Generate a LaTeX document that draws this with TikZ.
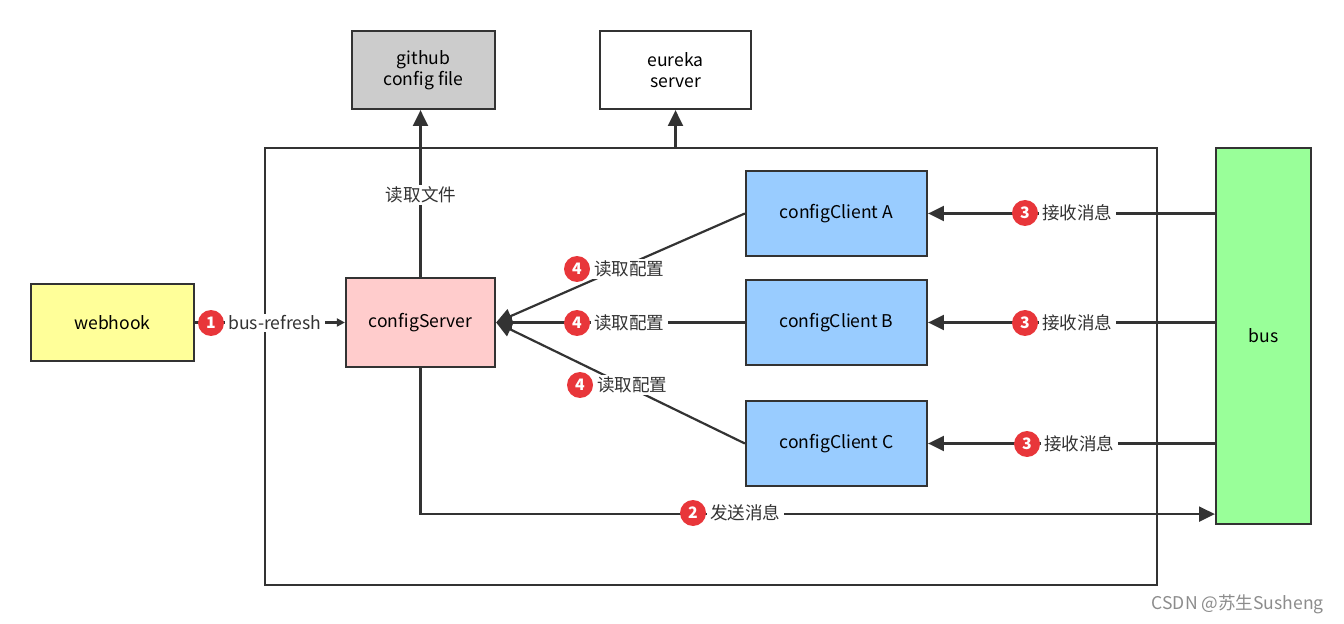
\documentclass[tikz,border=0pt]{standalone}
\usepackage{fontspec}
\setmainfont{Noto Sans CJK SC}
\usetikzlibrary{arrows.meta,positioning}
\definecolor{hookfill}{HTML}{FFFF99}
\definecolor{serverfill}{HTML}{FFCCCC}
\definecolor{gitfill}{HTML}{CCCCCC}
\definecolor{clientfill}{HTML}{99CCFF}
\definecolor{busfill}{HTML}{99FF99}
\definecolor{badgered}{HTML}{E8363A}
\definecolor{ink}{HTML}{333333}
\tikzset{%
  box/.style={draw=ink, line width=1.3pt, align=center, inner sep=0pt, font=\fontsize{10}{12}\selectfont},
  hook/.style={box, fill=hookfill, minimum width=3.26cm, minimum height=1.54cm},
  server/.style={box, fill=serverfill, minimum width=2.98cm, minimum height=1.78cm},
  store/.style={box, minimum width=2.9cm, minimum height=1.56cm},
  client/.style={box, fill=clientfill, minimum width=3.62cm, minimum height=1.70cm},
  bus/.style={box, fill=busfill, minimum width=1.9cm, minimum height=7.52cm},
  frame/.style={draw=ink, line width=1.3pt, minimum width=17.84cm, minimum height=8.74cm},
  line/.style={draw=ink, line width=1.25pt},
  arrow/.style={line, -{Triangle[length=9pt,width=8.5pt]}},
  small arrow/.style={line, -{Triangle[length=4.5pt,width=4.5pt]}},
  badge/.style={circle, fill=badgered, text=white, minimum size=0.52cm, inner sep=0pt, font=\bfseries\fontsize{9}{10}\selectfont},
  tag/.style={fill=white, inner xsep=2pt, inner ysep=1pt, text=ink, font=\fontsize{10}{12}\selectfont},
}
\newcommand{\steptag}[4]{%
  \node (#2-n) [badge] at (#1) {#3};
  \node (#2) [tag, right=0pt of #2-n] {#4};}

\begin{document}
\begin{tikzpicture}[x=0.02cm, y=-0.02cm]
  \useasboundingbox (0,0) rectangle (1344,624);

  \node (frame) [frame] at (711,366.5) {};

  \node (webhook) [hook] at (112.5,322.5) {webhook};
  \node (server) [server] at (420.5,322.5) {configServer};
  \node (github) [store, fill=gitfill, minimum width=2.86cm] at (423.5,70) {github\\config file};
  \node (eureka) [store, minimum width=3.02cm] at (675.5,70) {eureka\\server};
  \node (clientA) [client] at (836.5,213.5) {configClient A};
  \node (clientB) [client] at (836.5,322.5) {configClient B};
  \node (clientC) [client] at (836.5,443.5) {configClient C};
  \node (bus) [bus] at (1263.5,336) {bus};

  % connectors
  \path [small arrow] (webhook.east) -- (server.west);
  \path [arrow] (server.north) -- (server.north |- github.south);
  \path [arrow] (frame.north -| eureka.south) -- (eureka.south);
  \path [arrow] (clientA.west) -- (server.east);
  \path [arrow] (clientB.west) -- (server.east);
  \path [arrow] (clientC.west) -- (server.east);
  \path [arrow] (bus.west |- clientA) -- (clientA.east);
  \path [arrow] (bus.west |- clientB) -- (clientB.east);
  \path [arrow] (bus.west |- clientC) -- (clientC.east);
  \path [arrow] (server.south) |- ([yshift=0.22cm]bus.south west);

  % labels
  \node (readfile) [tag] at (421,195) {读取文件};
  \steptag{211,323}{refresh}{1}{bus-refresh}
  \steptag{693,513}{send}{2}{发送消息}
  \steptag{1025,213}{recvA}{3}{接收消息}
  \steptag{1025,323}{recvB}{3}{接收消息}
  \steptag{1027,444}{recvC}{3}{接收消息}
  \steptag{577,269}{readA}{4}{读取配置}
  \steptag{577,323}{readB}{4}{读取配置}
  \steptag{580,385}{readC}{4}{读取配置}

  \node (mark) [anchor=east, text=black!45, font=\fontsize{10}{12}\selectfont] at (1330,604) {CSDN @苏生Susheng};
\end{tikzpicture}
\end{document}
